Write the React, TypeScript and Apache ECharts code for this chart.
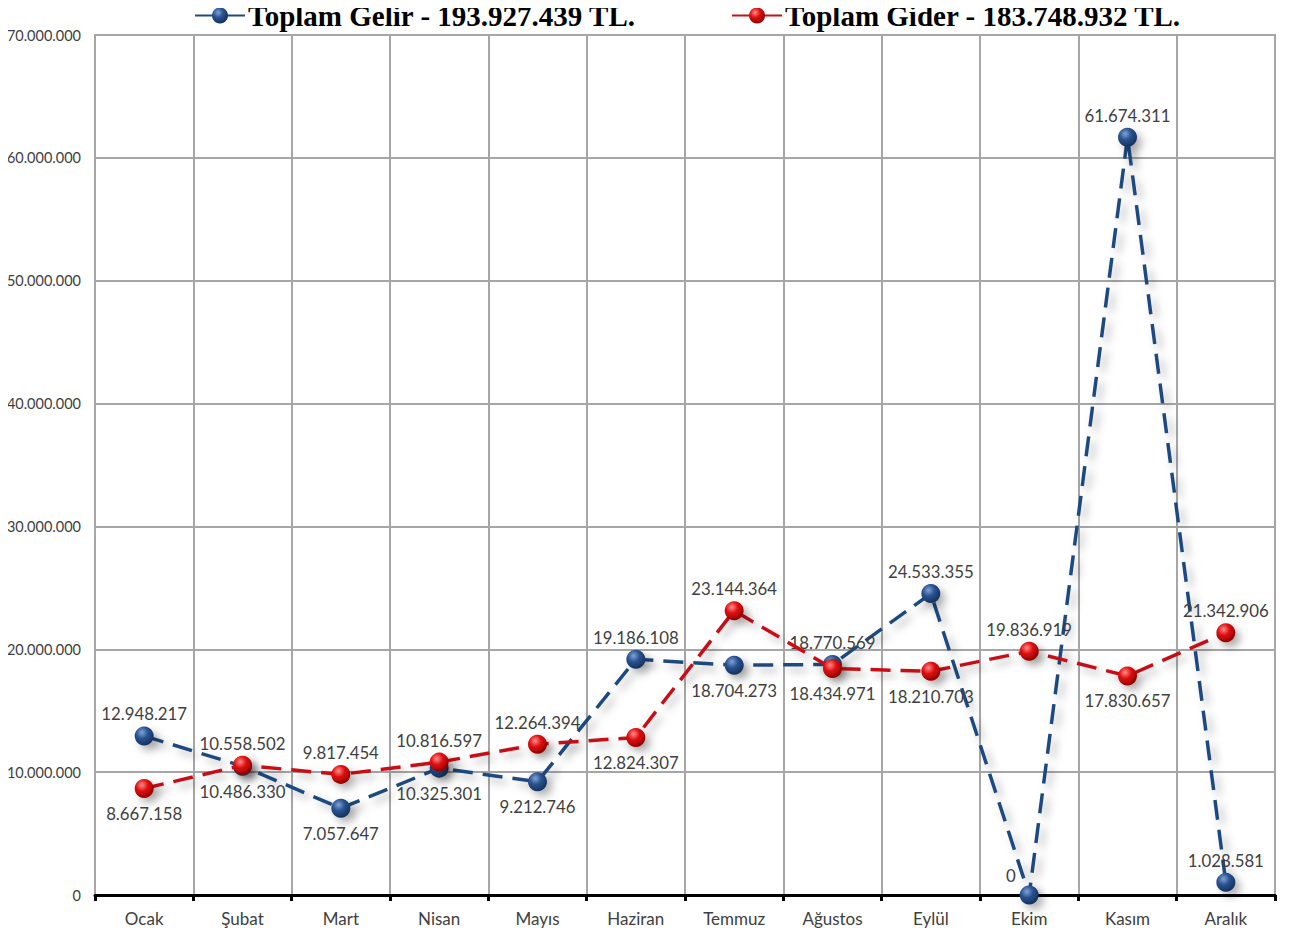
import React, { useEffect, useRef } from "react";
import * as echarts from "echarts";

const months = ["Ocak", "Şubat", "Mart", "Nisan", "Mayıs", "Haziran", "Temmuz", "Ağustos", "Eylül", "Ekim", "Kasım", "Aralık"];
const gelir = [12948217, 10486330, 7057647, 10325301, 9212746, 19186108, 18704273, 18770569, 24533355, 0, 61674311, 1028581];
const gider = [8667158, 10558502, 9817454, 10816597, 12264394, 12824307, 23144364, 18434971, 18210703, 19836919, 17830657, 21342906];
const gelirName = "Toplam Gelir - 193.927.439 TL.";
const giderName = "Toplam Gider - 183.748.932 TL.";
const gelirPos = ["top", "bottom", "bottom", "bottom", "bottom", "top", "bottom", "top", "top", "left", "top", "top"];
const giderPos = ["bottom", "top", "top", "top", "top", "bottom", "top", "bottom", "bottom", "top", "bottom", "top"];

const fmt = (v: number) => String(v).replace(/\B(?=(\d{3})+(?!\d))/g, ".");

const sphere = (light: string, mid: string, dark: string) =>
  new echarts.graphic.RadialGradient(0.38, 0.32, 0.7, [
    { offset: 0, color: light },
    { offset: 0.45, color: mid },
    { offset: 1, color: dark },
  ]);

export default function App() {
  const ref = useRef<HTMLDivElement>(null);
  useEffect(() => {
    if (!ref.current) return;
    const chart = echarts.init(ref.current, null, { renderer: "svg" });
    const sans = "Lato, 'Open Sans', sans-serif";
    const labelFont = { fontFamily: sans, fontSize: 16.8, color: "#404040" };
    const mk = (vals: number[], pos: string[]) =>
      vals.map((v, i) => ({
        value: v,
        label: {
          show: true,
          position: pos[i],
          distance: pos[i] === "bottom" ? 7 : 4,
          offset: pos[i] === "left" ? [0, -20] : [0, 0],
          formatter: () => fmt(v),
          ...labelFont,
        },
      }));
    const shadow = { shadowColor: "rgba(0,0,0,0.3)", shadowBlur: 9, shadowOffsetX: 5, shadowOffsetY: 5 };
    chart.setOption({
      animation: false,
      legend: {
        top: -4,
        left: 189,
        itemGap: 95,
        itemWidth: 50,
        itemHeight: 20,
        textStyle: { fontFamily: "'Liberation Serif', 'Times New Roman', serif", fontWeight: "bold", fontSize: 29, color: "#000", padding: [0, 0, 0, -2] },
        data: [gelirName, giderName],
      },
      grid: { left: 95, right: 18, top: 35, bottom: 47, show: true, borderColor: "#a6a6a6", borderWidth: 2 },
      xAxis: {
        type: "category",
        data: months,
        boundaryGap: true,
        axisLine: { lineStyle: { color: "#000", width: 3 } },
        axisTick: { show: true, length: 6, lineStyle: { color: "#000", width: 3 } },
        axisLabel: { fontFamily: sans, fontSize: 17, color: "#404040", margin: 15 },
        splitLine: { show: true, lineStyle: { color: "#a6a6a6", width: 2 } },
      },
      yAxis: {
        type: "value",
        min: 0,
        max: 70000000,
        interval: 10000000,
        axisLine: { show: false },
        axisTick: { show: false },
        axisLabel: { formatter: (v: number) => fmt(v), fontFamily: sans, fontSize: 14.5, color: "#404040", margin: 14 },
        splitLine: { show: true, lineStyle: { color: "#a6a6a6", width: 2 } },
      },
      series: [
        {
          name: gelirName,
          type: "line",
          data: mk(gelir, gelirPos),
          symbol: "circle",
          symbolSize: 19,
          lineStyle: { color: "#1f4a80", width: 3.5, type: [20, 10], ...shadow },
          itemStyle: { color: sphere("#7fa3d6", "#2a5391", "#14305a"), ...shadow },
          z: 3,
        },
        {
          name: giderName,
          type: "line",
          data: mk(gider, giderPos),
          symbol: "circle",
          symbolSize: 19,
          lineStyle: { color: "#c81018", width: 3.5, type: [20, 10], ...shadow },
          itemStyle: { color: sphere("#ff8a8a", "#e01010", "#8c0000"), ...shadow },
          z: 4,
        },
      ],
    });
    return () => chart.dispose();
  }, []);
  return <div ref={ref} style={{ width: 1293, height: 942, margin: -8 }} />;
}
